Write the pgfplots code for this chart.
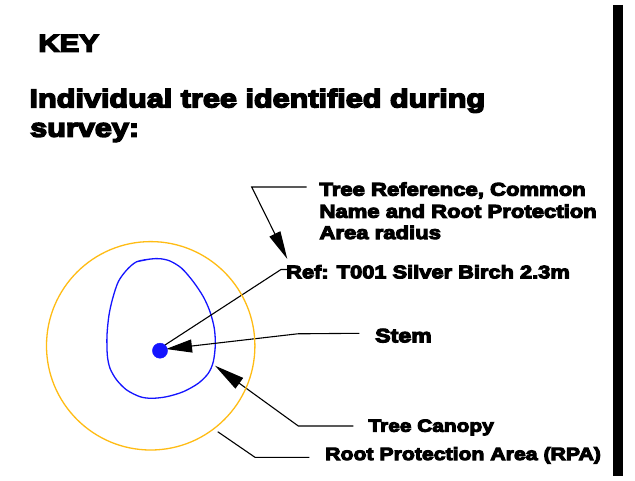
\documentclass[border=0pt]{standalone}
\usepackage{pgfplots}
\pgfplotsset{compat=1.18}
\usepackage{fontspec}
\usetikzlibrary{arrows.meta}
\newfontfamily\kf{Liberation Sans}[FakeStretch=1.2,BoldFeatures={FakeBold=6},FakeBold=6]
\definecolor{rpa}{RGB}{255,188,20}
\definecolor{canopy}{RGB}{20,20,255}
\newcommand{\fs}[1]{\kf\bfseries\fontsize{#1bp}{#1bp}\selectfont}
\begin{document}
\begin{tikzpicture}
\begin{axis}[
  width=635bp, height=471bp, scale only axis,
  xmin=0, xmax=635, ymin=0, ymax=471, y dir=reverse,
  hide axis, clip=false,
]
\fill[white] (rel axis cs:0,0) rectangle (rel axis cs:1,1);
% black bar on the right
\addplot[black, line width=10bp] coordinates {(618.3,0) (618.3,471)};
% Root protection area circle
\addplot[only marks, mark=o, mark size=104.6pt, mark options={draw=rpa, line width=1.3bp}] coordinates {(150.7,340.8)};
% Canopy outline
\addplot[canopy, line width=1.3bp, smooth, tension=0.5] coordinates {
(150.7,254) (136.7,256.7) (126.7,265) (118.3,276.7) (112.7,293.3) (109,310)
(107,330) (107.3,350) (110,363.3) (116.7,375) (126.7,385) (140,391.7)
(151.7,393.3) (166.7,391.7) (183.3,386.7) (198.3,378.3) (208.3,368.3)
(213.3,356.7) (215.3,340) (214.3,323.3) (210,306.7) (203.3,291.7)
(193.3,276.7) (181.7,263.3) (170,256) (160,253.7) (150.7,254) (136.7,256.7)};
% Stem
\addplot[only marks, mark=*, mark size=7.6pt, mark options={fill=canopy, draw=canopy}] coordinates {(160,345.7)};
% leader: tree reference
\addplot[black, line width=1.1bp, -{Triangle[length=28bp,width=12bp]}] coordinates {(306.7,182) (251.7,182) (287.3,254)};
% leader: ref label to stem
\addplot[black, line width=1.1bp] coordinates {(165,340) (281,264.5) (287,264.5)};
% leader: stem
\addplot[black, line width=1.1bp, -{Triangle[length=26bp,width=13bp]}] coordinates {(359.3,328.3) (297.7,328.8) (166,344)};
% leader: canopy
\addplot[black, line width=1.1bp, -{Triangle[length=30bp,width=13bp]}] coordinates {(353.3,421) (298.3,421) (215,360.7)};
% leader: RPA
\addplot[black, line width=1.1bp] coordinates {(217.7,426.7) (255,452.3) (309.3,452.3)};
% texts
\node[anchor=base west, inner sep=0] at (axis cs:38.3,46.7) {\fs{24.5}KEY};
\node[anchor=base west, inner sep=0] at (axis cs:29.3,102.3) {\fs{25.5}Individual tree identified during};
\node[anchor=base west, inner sep=0] at (axis cs:30,131.7) {\fs{25.5}survey:};
\node[anchor=base west, inner sep=0] at (axis cs:319.3,190.7) {\fs{18.4}Tree Reference, Common};
\node[anchor=base west, inner sep=0] at (axis cs:319.3,212.7) {\fs{18.4}Name and Root Protection};
\node[anchor=base west, inner sep=0] at (axis cs:319.3,234) {\fs{18.4}Area radius};
\node[anchor=base west, inner sep=0] at (axis cs:286,273.3) {\fs{18.2}Ref: T001 Silver Birch 2.3m};
\node[anchor=base west, inner sep=0] at (axis cs:375,337.3) {\fs{19.3}Stem};
\node[anchor=base west, inner sep=0] at (axis cs:368.3,426.7) {\fs{17.4}Tree Canopy};
\node[anchor=base west, inner sep=0] at (axis cs:325,455) {\fs{17.7}Root Protection Area (RPA)};
\end{axis}
\end{tikzpicture}
\end{document}
